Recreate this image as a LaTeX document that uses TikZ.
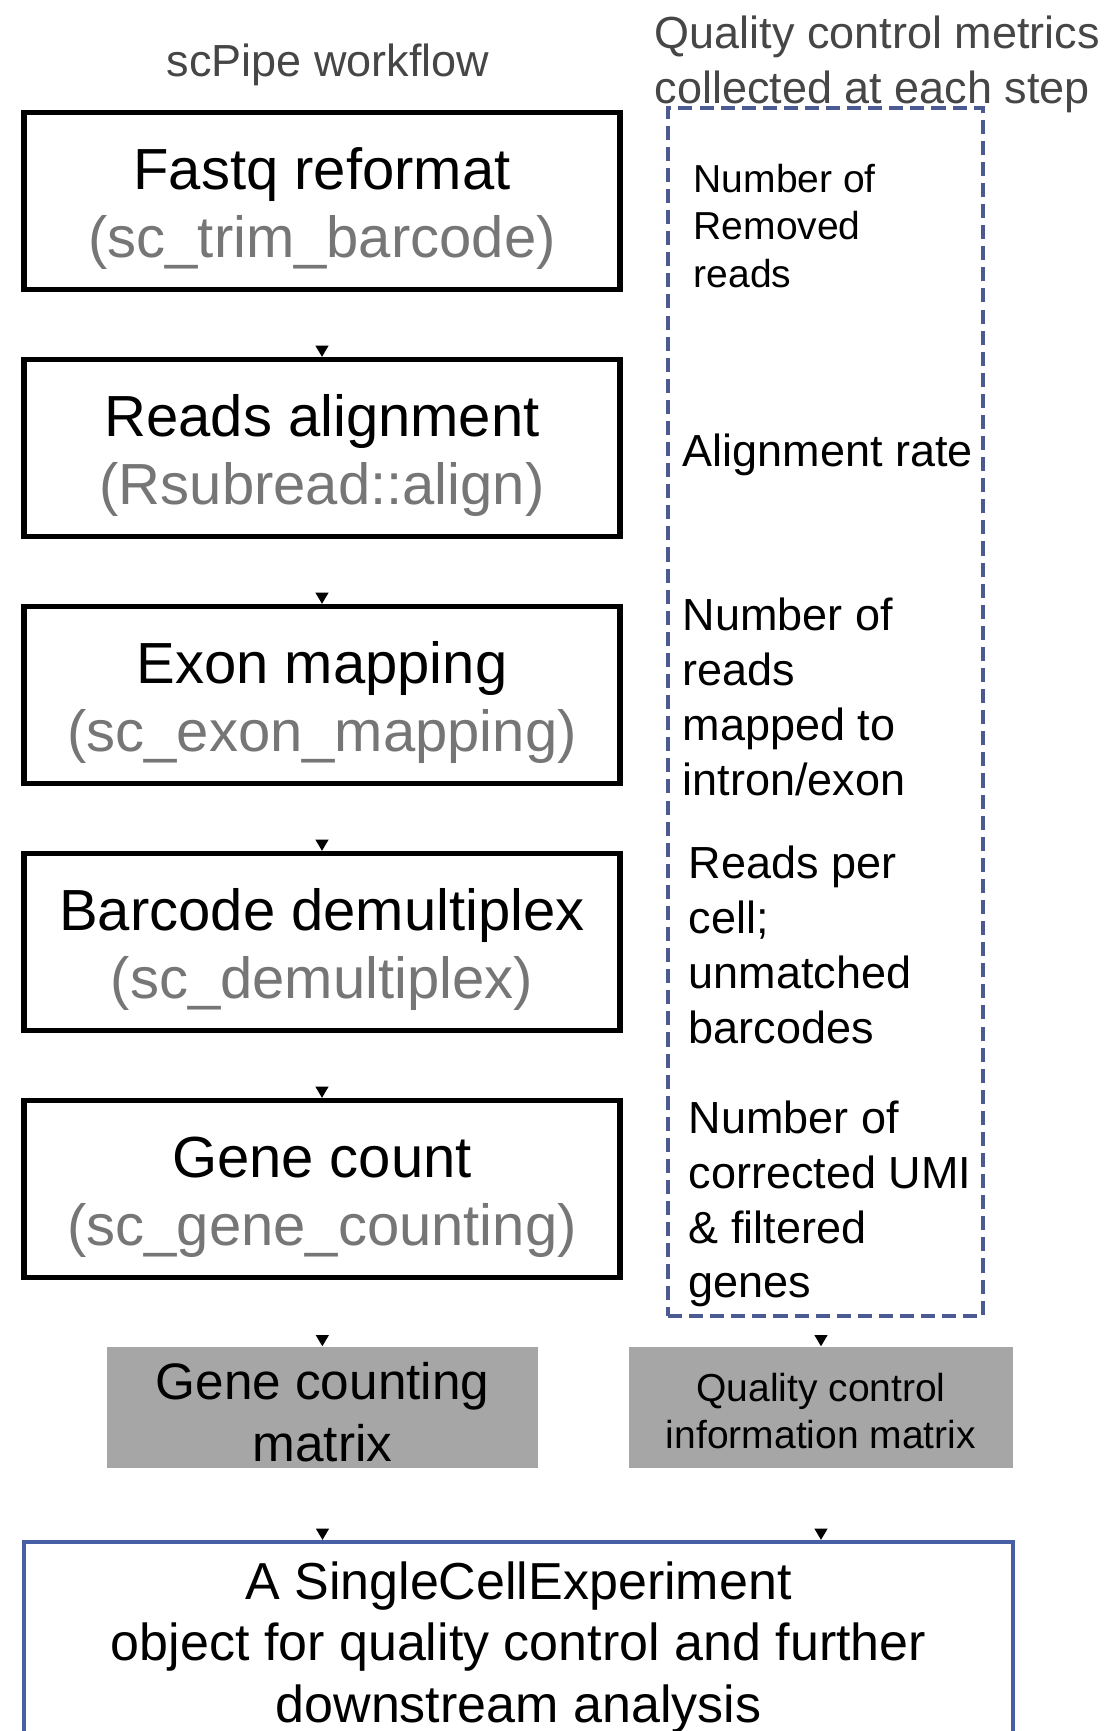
\documentclass[tikz,border=0pt]{standalone}
\usepackage{fontspec}
\setmainfont{Liberation Sans}
\usepackage{tikz}
\usetikzlibrary{arrows.meta}
\definecolor{titlegray}{RGB}{70,70,70}
\definecolor{toolgray}{RGB}{118,118,118}
\definecolor{matgray}{RGB}{166,166,166}
\definecolor{qcblue}{RGB}{75,90,145}
\definecolor{sceblue}{RGB}{70,95,165}
\newcommand{\steplift}{\rule{0pt}{16.2pt}}

\begin{document}
\begin{tikzpicture}[x=1cm,y=-1cm,
  stepbox/.style={draw, line width=1.5pt, minimum width=5.96cm, minimum height=1.77cm, align=center, font=\fontsize{16.5}{19.3}\selectfont},
  matbox/.style={fill=matgray, minimum height=1.21cm, inner ysep=0pt, align=center},
  qctext/.style={anchor=west, align=left, inner sep=0pt, font=\fontsize{12.8}{15.6}\selectfont},
  flow/.style={-{Triangle[width=3.6pt,length=3.2pt]}, line width=0.6pt, shorten <=#1}]
   \useasboundingbox (0,0) rectangle (11.04,17.31);

   \draw (3.28,0.645) node[text=titlegray, font=\fontsize{12.8}{15.6}\selectfont] (wftitle) {scPipe workflow};
   \draw (6.54,0.64) node[anchor=west, align=left, inner sep=0pt, text=titlegray, font=\fontsize{12.8}{15.6}\selectfont] (qctitle) {Quality control metrics\\collected at each step};

   % workflow steps
   \draw (3.22,2.01) node[stepbox] (fastq) {\steplift Fastq reformat\\\textcolor{toolgray}{(sc\_trim\_barcode)}};
   \draw (3.22,4.48) node[stepbox] (align) {\steplift Reads alignment\\\textcolor{toolgray}{(Rsubread::align)}};
   \draw (3.22,6.95) node[stepbox] (exon) {\steplift Exon mapping\\\textcolor{toolgray}{(sc\_exon\_mapping)}};
   \draw (3.22,9.42) node[stepbox] (demux) {\steplift Barcode demultiplex\\\textcolor{toolgray}{(sc\_demultiplex)}};
   \draw (3.22,11.89) node[stepbox] (genecount) {\steplift Gene count\\\textcolor{toolgray}{(sc\_gene\_counting)}};

   % qc metrics
   \draw (8.255,7.12) node[draw=qcblue, line width=1.3pt, dash pattern=on 4pt off 2pt, minimum width=3.15cm, minimum height=12.08cm] (qcbox) {};
   \draw (6.93,2.26) node[qctext, font=\fontsize{11.1}{13.4}\selectfont] (qcone) {Number of\\Removed\\reads};
   \draw (6.82,4.545) node[qctext] (qctwo) {Alignment rate};
   \draw (6.82,6.97) node[qctext] (qcthree) {Number of\\reads\\mapped to\\intron/exon};
   \draw (6.88,9.45) node[qctext] (qcfour) {Reads per\\cell;\\unmatched\\barcodes};
   \draw (6.88,12.04) node[qctext] (qcfive) {Number of\\corrected UMI\\\& filtered\\genes};

   % outputs
   \draw (3.225,14.075) node[matbox, minimum width=4.31cm, font=\fontsize{14.6}{17.6}\selectfont] (gcmat) {\rule{0pt}{13.4pt}Gene counting\\matrix};
   \draw (8.21,14.075) node[matbox, minimum width=3.84cm, font=\fontsize{11.1}{13.4}\selectfont] (qcmat) {\rule{0pt}{10.2pt}Quality control\\information matrix};
   \draw (5.185,16.475) node[draw=sceblue, line width=1.2pt, minimum width=9.89cm, minimum height=2.11cm, align=center, font=\fontsize{14.8}{17.5}\selectfont] (sce) {A SingleCellExperiment\\object for quality control and further\\downstream analysis};

      \path[flow=0.58cm] (fastq) edge (align);
      \path[flow=0.58cm] (align) edge (exon);
      \path[flow=0.58cm] (exon) edge (demux);
      \path[flow=0.58cm] (demux) edge (genecount);
      \path[flow=0.57cm] (genecount) edge (gcmat);
      \path[flow=0.18cm] (qcbox.south -| qcmat) edge (qcmat);
      \path[flow=0.62cm] (gcmat) edge (gcmat |- sce.north);
      \path[flow=0.62cm] (qcmat) edge (qcmat |- sce.north);
\end{tikzpicture}
\end{document}
